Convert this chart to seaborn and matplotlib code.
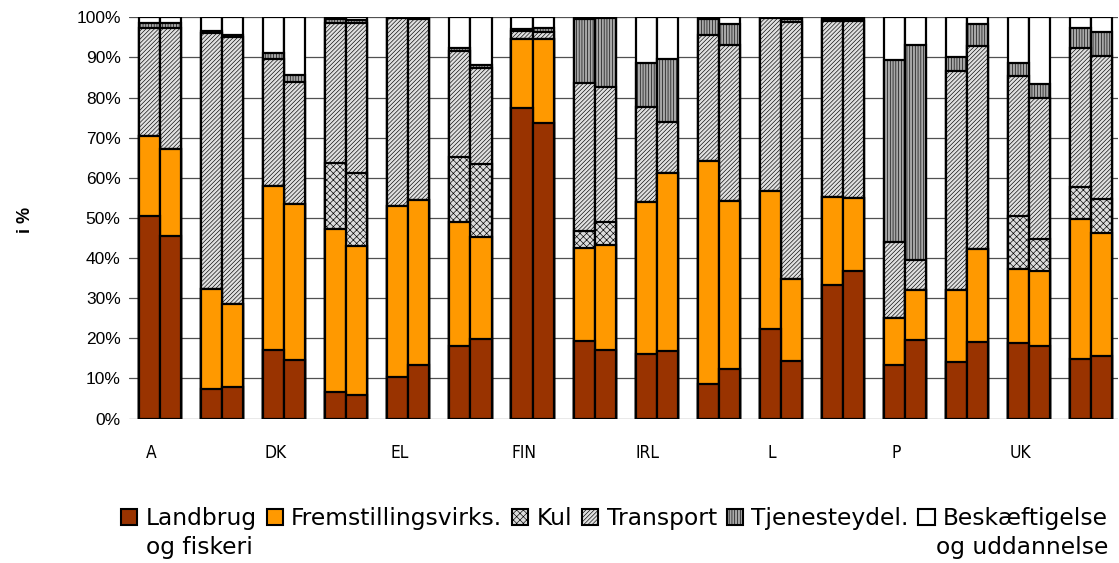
import numpy as np
import pandas as pd
import matplotlib
matplotlib.use("Agg")
import matplotlib.pyplot as plt
import seaborn as sns
from matplotlib.patches import Patch
from matplotlib.transforms import ScaledTranslation

# ---------------- data ----------------
countries = ["A", "B", "DK", "D", "EL", "E", "FIN", "F", "IRL", "I", "L", "NL", "P", "S", "UK", "EU15"]
periods = ["Periode 1", "Periode 2"]
series_names = ["Landbrug", "Fremstillingsvirks.", "Kul", "Transport", "Tjenesteydel.", "Beskæftigelse"]

# values in %, ordered country by country, two bars per country
landbrug = [50.5, 45.4, 7.4, 7.8, 17.2, 14.7, 6.6, 6.0, 10.3, 13.3, 18.0, 19.8, 77.5, 73.6, 19.3, 17.2,
            16.1, 16.8, 8.5, 12.4, 22.3, 14.3, 33.4, 36.9, 13.4, 19.5, 14.0, 19.0, 18.8, 18.0, 14.9, 15.7]
fremstilling = [20.0, 21.7, 25.0, 20.8, 40.8, 38.8, 40.7, 36.9, 42.8, 41.2, 31.1, 25.4, 17.1, 21.0, 23.2, 26.0,
                37.8, 44.5, 55.8, 41.9, 34.3, 20.5, 21.7, 18.0, 11.7, 12.6, 18.1, 23.2, 18.5, 18.7, 34.9, 30.5]
kul = [0.0, 0.0, 0.0, 0.0, 0.0, 0.0, 16.4, 18.3, 0.0, 0.0, 16.0, 18.2, 0.0, 0.0, 4.3, 5.7,
       0.0, 0.0, 0.0, 0.0, 0.0, 0.0, 0.0, 0.0, 0.0, 0.0, 0.0, 0.0, 13.1, 8.0, 8.0, 8.6]
transport = [26.8, 30.2, 63.6, 66.6, 31.5, 30.5, 35.0, 37.5, 46.7, 45.0, 26.4, 23.9, 2.1, 1.8, 36.8, 33.7,
             23.7, 12.7, 31.3, 38.8, 43.2, 64.1, 44.1, 44.3, 19.0, 7.5, 54.4, 50.7, 35.0, 35.1, 34.6, 35.6]
tjeneste = [1.2, 1.4, 0.5, 0.5, 1.7, 1.6, 1.0, 0.6, 0.0, 0.0, 0.8, 0.8, 0.5, 0.9, 15.9, 17.2,
            10.9, 15.5, 4.0, 5.2, 0.0, 0.8, 0.5, 0.5, 45.3, 53.5, 3.7, 5.4, 3.3, 3.6, 4.9, 6.0]
beskaeftigelse = [1.5, 1.3, 3.5, 4.3, 8.8, 14.4, 0.3, 0.7, 0.2, 0.5, 7.7, 11.9, 2.8, 2.7, 0.5, 0.2,
                  11.5, 10.5, 0.4, 1.7, 0.2, 0.3, 0.3, 0.3, 10.6, 6.9, 9.8, 1.7, 11.3, 16.6, 2.7, 3.6]

colors = ["#993300", "#FF9900", "#DCDCDC", "#E0E0E0", "#A8A8A8", "#FFFFFF"]
hatches = [None, None, "xxxxx", "////////", "||||||", None]

# ---------------- frame ----------------
df = pd.DataFrame({
    "land": np.repeat(countries, 2),
    "periode": periods * len(countries),
})
values = [landbrug, fremstilling, kul, transport, tjeneste, beskaeftigelse]
cum = np.cumsum(np.array(values, dtype=float), axis=0)
cum_cols = []
for i, name in enumerate(series_names):
    col = f"cum_{i}"
    df[col] = cum[i]
    cum_cols.append(col)

# ---------------- figure ----------------
sns.set_style("white")
plt.rcParams["hatch.linewidth"] = 0.45
plt.rcParams["text.color"] = "black"
plt.rcParams["xtick.color"] = "black"
plt.rcParams["ytick.color"] = "black"
W, H = 1119, 563
fig = plt.figure(figsize=(W / 100, H / 100), dpi=100)
ax = fig.add_axes([129 / W, 1 - 418.6 / H, (1118 - 129) / W, (418.6 - 17.3) / H])

for i in reversed(range(len(series_names))):
    sns.barplot(data=df, x="land", y=cum_cols[i], hue="periode", order=countries,
                hue_order=periods, palette=[colors[i], colors[i]], saturation=1,
                width=0.68, gap=0, edgecolor="black", linewidth=1.6,
                hatch=hatches[i], legend=False, errorbar=None, ax=ax)

ax.set_xlim(-0.5, 15.43)
ax.set_ylim(0, 100)
ax.set_axisbelow(True)
ax.yaxis.grid(True, color="#505050", lw=0.9)
ax.xaxis.grid(False)
for s in ax.spines.values():
    s.set_visible(False)

ax.set_yticks(np.arange(0, 101, 10))
ax.set_yticklabels([f"{v}%" for v in range(0, 101, 10)], fontfamily="Liberation Sans",
                   fontsize=12.5, color="black")
ax.set_xticks(range(len(countries)))
ax.set_xticklabels([c if k % 2 == 0 else "" for k, c in enumerate(countries)],
                   fontfamily="DejaVu Sans", fontstretch="condensed", fontsize=12.5, color="black")
ax.tick_params(axis="x", length=0, pad=18)
ax.tick_params(axis="y", length=0, pad=6)
off = ScaledTranslation(-9 / 100, 0, fig.dpi_scale_trans)
for lbl in ax.get_xticklabels():
    lbl.set_transform(lbl.get_transform() + off)
ax.set_xlabel("")
ax.set_ylabel("")

fig.text(26 / W, 1 - 220 / H, "i %", rotation=90, fontweight="bold", fontsize=13,
         fontfamily="Liberation Sans", ha="center", va="center", color="black")

# ---------------- legend ----------------
handles = [Patch(facecolor=colors[i], edgecolor="black", hatch=hatches[i], linewidth=1.5)
           for i in range(len(series_names))]
leg = fig.legend(handles, series_names, ncol=6, loc="upper left",
                 bbox_to_anchor=(121 / W, 1 - 507 / H), frameon=False,
                 prop={"family": "DejaVu Sans", "size": 16.85},
                 handlelength=0.7, handleheight=0.7, handletextpad=0.35,
                 columnspacing=0.42, borderpad=0, borderaxespad=0,
                 labelcolor="black")

fig.canvas.draw()
renderer = fig.canvas.get_renderer()
texts = leg.get_texts()
b0 = texts[0].get_window_extent(renderer)
b5 = texts[5].get_window_extent(renderer)
fig.text(b0.x0 / W, (b0.y0 - 6) / H, "og fiskeri", ha="left", va="top",
         fontfamily="DejaVu Sans", fontsize=16.85, color="black")
fig.text(b5.x1 / W, (b5.y0 - 6) / H, "og uddannelse", ha="right", va="top",
         fontfamily="DejaVu Sans", fontsize=16.85, color="black")

fig.savefig("out.png", dpi=100)
